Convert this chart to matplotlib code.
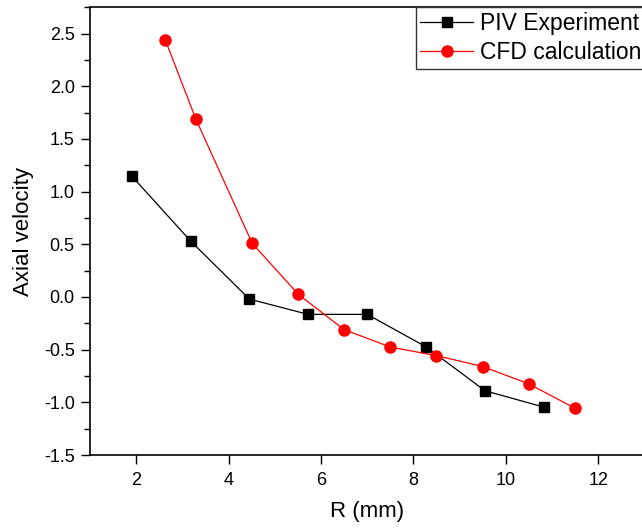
import matplotlib
matplotlib.use("Agg")
import matplotlib.pyplot as plt
from matplotlib.ticker import MultipleLocator

plt.rcParams['font.family'] = ['Liberation Sans', 'DejaVu Sans']

piv_r = [1.90, 3.18, 4.45, 5.72, 7.00, 8.28, 9.55, 10.82]
piv_v = [1.15, 0.53, -0.02, -0.165, -0.165, -0.475, -0.89, -1.045]

cfd_r = [2.63, 3.29, 4.51, 5.51, 6.50, 7.50, 8.50, 9.50, 10.50, 11.49]
cfd_v = [2.44, 1.69, 0.51, 0.025, -0.31, -0.475, -0.557, -0.66, -0.825, -1.055]

x_ticks = [2, 4, 6, 8, 10, 12]
y_ticks = [-1.5, -1.0, -0.5, 0.0, 0.5, 1.0, 1.5, 2.0, 2.5]

W, H = 642, 532
fig = plt.figure(figsize=(W / 100, H / 100), dpi=100)
left = 90 / W
bottom = (H - 455) / H
width = 554.4 / W
height = (455 - 7.3) / H
ax = fig.add_axes([left, bottom, width, height])

ax.plot(piv_r, piv_v, color='black', lw=0.9, marker='s', ms=7.2,
        label='PIV Experiment')
ax.plot(cfd_r, cfd_v, color='red', lw=0.9, marker='o', ms=8.0,
        label='CFD calculation')

ax.set_xlim(1, 13)
ax.set_ylim(-1.5, 2.75)
ax.set_xticks(x_ticks)
ax.set_yticks(y_ticks)
ax.set_yticklabels([f"{v:.1f}" for v in y_ticks])
ax.yaxis.set_minor_locator(MultipleLocator(0.25))

ax.tick_params(axis='both', which='major', direction='out', length=6.5,
               width=1, labelsize=13)
ax.tick_params(axis='x', which='major', pad=5.5)
ax.tick_params(axis='y', which='major', pad=4.5)
ax.tick_params(axis='y', which='minor', direction='out', length=4, width=1)
for s in ax.spines.values():
    s.set_linewidth(1.2)

ax.set_xlabel('R (mm)', fontsize=16, labelpad=9)
ax.set_ylabel('Axial velocity', fontsize=16, labelpad=7)

leg = ax.legend(loc='upper left', bbox_to_anchor=(415.7 / W, 1 - 7 / H),
                bbox_transform=fig.transFigure, borderaxespad=0,
                fontsize=16.5, frameon=True, fancybox=False, framealpha=1,
                edgecolor='#333333', handlelength=2.3, handletextpad=0.3,
                borderpad=0.2, labelspacing=0.3)
leg.get_frame().set_linewidth(1.0)

fig.savefig('out.png', dpi=100)
